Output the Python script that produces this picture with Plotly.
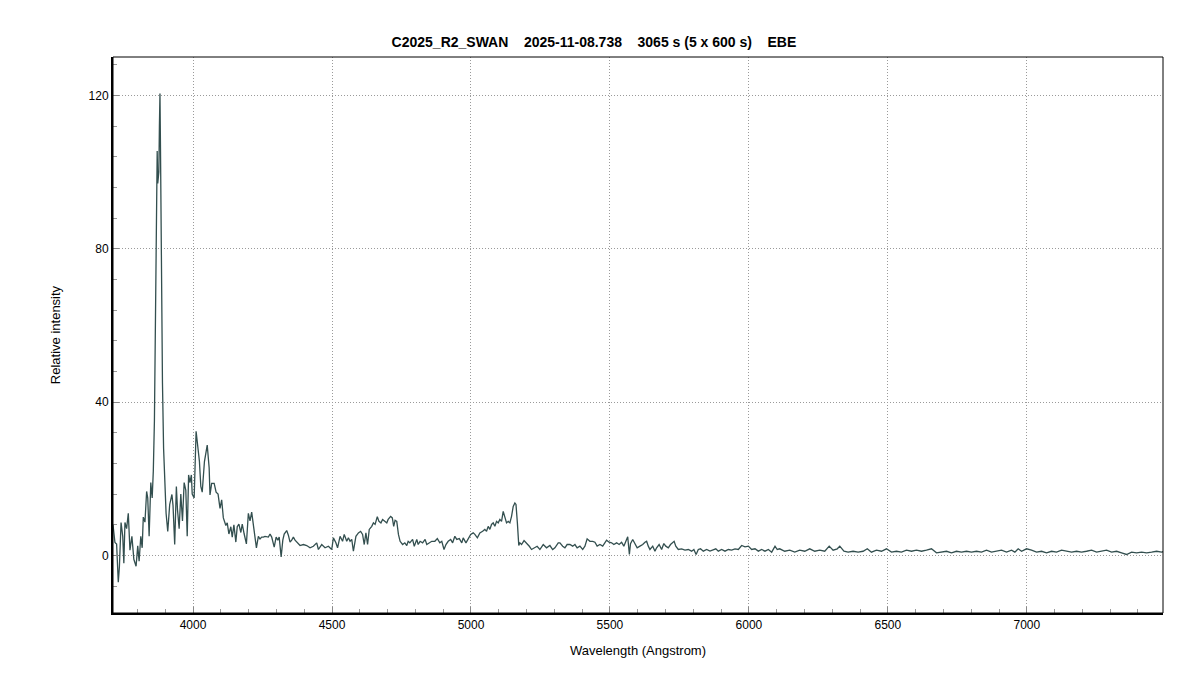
import plotly.graph_objects as go

# Wavelength (Angstrom) and relative intensity
wl_blue = [3705, 3712, 3719, 3725, 3731, 3735, 3741, 3747, 3751, 3755, 3761, 3767, 3773, 3780,
           3787, 3795, 3801, 3806, 3812, 3817, 3821, 3827, 3833, 3837, 3842, 3848, 3853, 3857,
           3861, 3865, 3868, 3871, 3873, 3877, 3879, 3881, 3883, 3886, 3890, 3894, 3897, 3903,
           3909, 3916, 3924, 3928, 3934, 3940, 3944, 3950, 3956, 3962, 3968, 3974, 3979, 3984,
           3989, 3994, 3997, 4004, 4011, 4017, 4023, 4028, 4033, 4041, 4047, 4051, 4058, 4061,
           4067, 4076, 4083, 4090, 4097, 4103, 4109, 4118, 4123, 4129, 4136, 4141, 4147, 4154,
           4159, 4165, 4172, 4177, 4184, 4192, 4199, 4205, 4211, 4217, 4223, 4228, 4235, 4241,
           4247, 4253, 4259, 4271, 4277, 4283, 4292, 4299, 4305, 4310, 4317, 4323, 4328, 4337,
           4343, 4349, 4355, 4361, 4367, 4373, 4379, 4385]
int_blue = [6.0, 8.0, 3.4, 3.0, -7.0, -3.0, 8.6, 5.0, -2.0, 8.6, 7.0, 11.0, 1.4, 5.0,
            -1.0, -2.8, 2.5, -1.5, 5.0, 2.0, 10.0, 8.7, 16.7, 15.0, 5.0, 19.0, 15.0, 22.0,
            35.0, 60.0, 85.0, 105.5, 97.0, 100.0, 112.0, 120.5, 105.0, 75.0, 45.0, 28.0, 20.0, 11.0,
            6.3, 13.3, 15.9, 13.0, 2.9, 18.0, 12.0, 7.0, 16.0, 9.0, 19.0, 17.0, 5.0, 21.0,
            19.0, 21.0, 16.0, 15.0, 32.4, 27.6, 24.5, 18.0, 16.5, 24.5, 27.5, 28.8, 22.8, 15.8,
            18.8, 18.8, 16.5, 16.0, 12.3, 14.5, 9.8, 7.8, 8.5, 5.6, 7.5, 4.8, 8.0, 3.5,
            7.5, 8.2, 6.0, 8.2, 5.6, 3.0, 11.0, 9.0, 11.3, 8.0, 4.8, 2.0, 5.0, 4.3,
            4.8, 4.8, 5.0, 4.8, 5.6, 4.8, 2.2, 4.8, 4.0, 4.8, -0.4, 4.0, 5.6, 6.5,
            5.3, 3.5, 4.0, 4.8, 4.0, 3.5, 3.0, 2.6]

wl_mid = [4397, 4409, 4421, 4433, 4445, 4451, 4463, 4475, 4487, 4499, 4505, 4514, 4520, 4529,
          4538, 4544, 4553, 4559, 4565, 4571, 4577, 4586, 4595, 4603, 4610, 4616, 4622, 4628,
          4634, 4643, 4649, 4655, 4663, 4669, 4676, 4682, 4690, 4697, 4702, 4711, 4717, 4722,
          4727, 4733, 4739, 4745, 4754, 4762, 4769, 4774, 4780, 4790, 4796, 4805, 4810, 4817,
          4826, 4835, 4841, 4850, 4859, 4870, 4879, 4888, 4895, 4903, 4910, 4918, 4927, 4934,
          4942, 4949, 4958, 4967, 4972, 4982, 4990, 4999, 5008, 5014, 5023, 5032, 5042, 5050,
          5056, 5062, 5068, 5074, 5080, 5086, 5092, 5098, 5104, 5110, 5116, 5122, 5128, 5134,
          5140, 5146, 5152, 5158, 5162, 5167, 5172, 5176, 5182, 5191, 5200, 5210, 5218, 5230,
          5238, 5248, 5260, 5272, 5284, 5294, 5302, 5314]
int_mid = [2.86, 2.6, 2.0, 2.4, 3.3, 1.56, 2.86, 2.0, 2.4, 1.56, 4.6, 3.3, 2.0, 5.0,
           3.7, 5.5, 3.7, 4.6, 3.7, 4.2, 1.1, 5.0, 5.9, 6.3, 5.5, 2.86, 5.9, 2.86,
           6.8, 7.6, 8.5, 8.1, 10.1, 8.9, 8.5, 9.4, 8.9, 8.5, 9.4, 10.2, 9.8, 7.6,
           9.2, 8.9, 5.5, 3.7, 2.86, 3.3, 2.6, 3.7, 3.3, 4.2, 2.4, 4.2, 2.86, 3.7,
           3.3, 4.2, 2.86, 3.3, 3.7, 3.7, 4.4, 3.3, 3.7, 1.56, 2.86, 3.7, 4.2, 3.3,
           5.0, 4.2, 4.4, 3.3, 4.6, 3.3, 4.2, 5.5, 5.9, 5.5, 4.6, 5.9, 6.3, 6.8,
           6.3, 7.6, 6.8, 8.1, 8.5, 7.6, 8.9, 8.5, 9.4, 8.9, 11.5, 10.2, 8.5, 8.9,
           8.5, 10.2, 12.8, 13.7, 13.3, 8.5, 2.6, 3.3, 2.86, 3.9, 3.3, 2.4, 1.56, 2.0,
           2.4, 1.56, 2.86, 2.0, 2.6, 1.56, 2.0, 3.3]

wl_green = [5320, 5330, 5338, 5346, 5356, 5366, 5374, 5382, 5392, 5402, 5410, 5418, 5428, 5438,
            5446, 5454, 5464, 5474, 5482, 5488, 5497, 5506, 5514, 5524, 5533, 5542, 5550, 5558,
            5564, 5570, 5574, 5582, 5590, 5598, 5608, 5618, 5626, 5632, 5638, 5644, 5654, 5662,
            5668, 5677, 5686, 5694, 5701, 5710, 5718, 5726, 5731, 5737, 5746, 5758, 5770, 5782,
            5794, 5802, 5810, 5818, 5826, 5836, 5848, 5860, 5872, 5881, 5890, 5902, 5914, 5926,
            5938, 5950, 5962, 5974, 5986, 5998, 6010, 6022, 6034, 6046, 6058, 6070, 6082, 6094,
            6102, 6111]
int_green = [3.3, 2.43, 2.0, 2.86, 2.86, 2.43, 2.86, 2.0, 2.43, 1.56, 2.43, 4.34, 3.7, 3.7,
             3.47, 2.43, 2.86, 2.43, 3.3, 4.0, 3.47, 3.3, 2.86, 3.3, 2.86, 3.47, 2.43, 3.7,
             4.86, 0.26, 3.1, 4.16, 2.86, 2.0, 2.43, 2.86, 3.47, 3.7, 2.43, 1.56, 2.43, 1.13,
             2.0, 2.86, 1.56, 3.1, 2.43, 2.0, 2.86, 3.3, 3.7, 2.43, 1.56, 1.74, 1.39, 1.56,
             1.13, 1.56, 0.26, 1.56, 1.74, 1.13, 1.56, 1.13, 1.39, 1.74, 1.13, 1.56, 1.13, 1.56,
             1.39, 1.74, 1.56, 2.6, 2.26, 2.43, 1.56, 1.74, 1.13, 1.56, 1.13, 1.56, 0.87, 2.43,
             1.56, 1.74]

wl_red = [6129, 6147, 6165, 6183, 6201, 6219, 6237, 6255, 6273, 6289, 6303, 6318, 6327, 6342,
          6357, 6375, 6393, 6411, 6426, 6441, 6459, 6477, 6495, 6513, 6531, 6549, 6567, 6585,
          6603, 6621, 6639, 6657, 6675, 6693, 6711, 6729, 6747, 6765, 6783, 6801, 6819, 6837,
          6855, 6873, 6891, 6909, 6927, 6945, 6957, 6969, 6981, 6999, 7017, 7035, 7053, 7071,
          7089, 7107, 7125, 7143, 7161, 7179, 7197, 7215, 7233, 7251, 7269, 7287, 7305, 7323,
          7341, 7359, 7377, 7395, 7413, 7431, 7449, 7467, 7485, 7495]
int_red = [1.1, 1.38, 0.87, 1.38, 1.1, 1.74, 1.1, 1.38, 1.1, 2.43, 1.38, 1.74, 2.43, 1.1,
           0.87, 1.1, 0.87, 1.1, 1.74, 0.87, 1.38, 1.1, 1.74, 0.87, 1.1, 0.87, 1.38, 1.1,
           1.38, 1.1, 1.38, 1.74, 0.69, 0.87, 1.1, 0.69, 1.1, 0.87, 1.1, 0.87, 1.1, 0.87,
           1.38, 0.87, 1.1, 1.38, 0.87, 1.38, 0.87, 1.74, 1.1, 1.74, 1.38, 0.87, 1.1, 0.69,
           1.1, 0.87, 1.38, 1.1, 0.87, 1.1, 0.87, 1.1, 1.38, 0.87, 1.1, 1.38, 0.87, 1.1,
           0.69, 0.26, 0.87, 0.69, 0.87, 0.69, 0.87, 1.1, 0.87, 1.1]

wavelength = wl_blue + wl_mid + wl_green + wl_red
intensity = int_blue + int_mid + int_green + int_red

x_ticks = [4000, 4500, 5000, 5500, 6000, 6500, 7000]
y_ticks = [0, 40, 80, 120]

title_text = ("C2025_R2_SWAN\u00a0\u00a0\u00a0 2025-11-08.738\u00a0\u00a0\u00a0 "
              "3065 s (5 x 600 s)\u00a0\u00a0\u00a0 EBE")

fig = go.Figure()
fig.add_trace(go.Scatter(x=wavelength, y=intensity, mode="lines",
                         line=dict(color="#334f4f", width=1.3), showlegend=False,
                         hoverinfo="x+y"))

font_family = "Liberation Sans, Arial, sans-serif"

fig.update_layout(
    width=1200, height=685,
    paper_bgcolor="white", plot_bgcolor="white",
    margin=dict(l=105, r=45, t=49, b=80),
    font=dict(family=font_family, size=12, color="black"),
    title=dict(text="<b>" + title_text + "</b>", x=0.4883, xanchor="center",
               y=1 - 34 / 685, yanchor="middle",
               font=dict(family=font_family, size=14, color="black")),
    xaxis=dict(range=[3712, 7490], tickmode="array", tickvals=x_ticks,
               ticktext=[str(v) for v in x_ticks],
               showgrid=True, gridcolor="#9a9a9a", griddash="1px,2px", gridwidth=1,
               zeroline=False, showline=True, linecolor="black", linewidth=2,
               ticks="inside", ticklen=6, tickcolor="#888888",
               tickfont=dict(size=12),
               minor=dict(dtick=100, ticks="inside", ticklen=4, tickcolor="#999999",
                          showgrid=False),
               title=dict(text="Wavelength (Angstrom)", standoff=14,
                          font=dict(size=13))),
    yaxis=dict(range=[-15, 130], tickmode="array", tickvals=y_ticks,
               ticktext=[str(v) for v in y_ticks],
               showgrid=True, gridcolor="#9a9a9a", griddash="1px,2px", gridwidth=1,
               zeroline=False, showline=True, linecolor="black", linewidth=2,
               ticks="inside", ticklen=6, tickcolor="#888888",
               tickfont=dict(size=12),
               minor=dict(dtick=8, ticks="inside", ticklen=4, tickcolor="#999999",
                          showgrid=False),
               title=dict(text="Relative intensity", standoff=25,
                          font=dict(size=13))),
    shapes=[dict(type="rect", xref="paper", yref="paper", x0=0, x1=1, y0=0, y1=1,
                 line=dict(color="black", width=1), fillcolor="rgba(0,0,0,0)",
                 layer="above")],
)

fig.write_html("out.html")
